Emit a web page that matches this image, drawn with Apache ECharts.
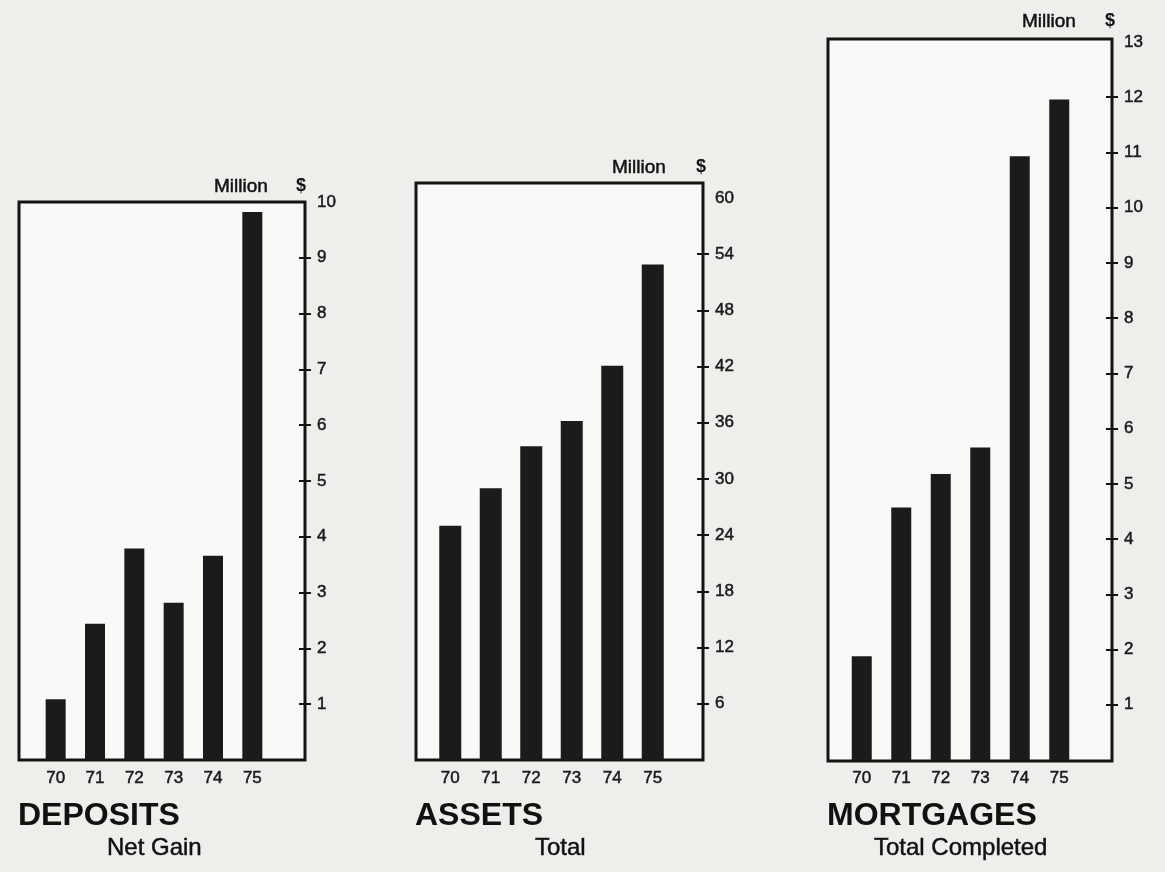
<!DOCTYPE html>
<html>
<head>
<meta charset="utf-8">
<script src="https://cdn.jsdelivr.net/npm/echarts@6/dist/echarts.min.js"></script>
<style>
  html, body { margin: 0; padding: 0; background: #eeeeeb; }
  #chart { width: 1165px; height: 872px; }
</style>
</head>
<body>
<div id="chart"></div>
<script>
// values (million $)
const years = ['70', '71', '72', '73', '74', '75'];
const deposits = [1.09, 2.44, 3.79, 2.82, 3.66, 9.82];
const assets = [25.0, 29.0, 33.5, 36.2, 42.1, 52.9];
const mortgages = [1.88, 4.57, 5.18, 5.66, 10.93, 11.96];

const depositTicks = [1, 2, 3, 4, 5, 6, 7, 8, 9];
const depositLabels = [1, 2, 3, 4, 5, 6, 7, 8, 9, 10];
const assetTicks = [6, 12, 18, 24, 30, 36, 42, 48, 54];
const assetLabels = [6, 12, 18, 24, 30, 36, 42, 48, 54, 60];
const mortgageTicks = [1, 2, 3, 4, 5, 6, 7, 8, 9, 10, 11, 12];
const mortgageLabels = [1, 2, 3, 4, 5, 6, 7, 8, 9, 10, 11, 12, 13];

const FONT = '"Liberation Sans", Arial, Helvetica, sans-serif';
const INK = '#141414';
// thin stroke so the small print looks as heavy as the scan
const heavy = { textBorderColor: '#1a1a1a', textBorderWidth: 0.5 };

// layout of each panel: frame box, inner band for the bars, value range
const panels = [
  { title: 'DEPOSITS', sub: 'Net Gain', subLeft: 107, data: deposits, ticks: depositTicks, labels: depositLabels, max: 10,
    frame: { left: 19, top: 202, width: 286, height: 558 }, bars: { left: 36, width: 236, top: 202, height: 558 }, barWidth: 20,
    unitTop: 177, unitLeft: 214, dollarLeft: 296 },
  { title: 'ASSETS', sub: 'Total', subLeft: 535, data: assets, ticks: assetTicks, labels: assetLabels, max: 60,
    frame: { left: 416, top: 183, width: 287, height: 577 }, bars: { left: 430, width: 243, top: 198, height: 562 }, barWidth: 22,
    unitTop: 158, unitLeft: 612, dollarLeft: 696 },
  { title: 'MORTGAGES', sub: 'Total Completed', subLeft: 874, data: mortgages, ticks: mortgageTicks, labels: mortgageLabels, max: 13,
    frame: { left: 828, top: 39, width: 284, height: 722 }, bars: { left: 842, width: 237, top: 42, height: 718 }, barWidth: 20,
    unitTop: 12, unitLeft: 1022, dollarLeft: 1105 }
];

const grid = [], xAxis = [], yAxis = [], series = [], title = [];

panels.forEach((p, i) => {
  const frameRight = p.frame.left + p.frame.width;
  const barRight = p.bars.left + p.bars.width;

  grid.push({ show: true, left: p.frame.left, top: p.frame.top, width: p.frame.width, height: p.frame.height,
    backgroundColor: '#f9f9f7', borderColor: INK, borderWidth: 3 });
  grid.push({ left: p.bars.left, top: p.bars.top, width: p.bars.width, height: p.bars.height });

  xAxis.push({ gridIndex: 2 * i, type: 'value', show: false });
  xAxis.push({
    gridIndex: 2 * i + 1, type: 'category', data: years,
    axisLine: { show: false }, axisTick: { show: false },
    axisLabel: Object.assign({ color: '#1a1a1a', fontSize: 17, fontFamily: FONT, margin: 10 }, heavy)
  });

  yAxis.push({ gridIndex: 2 * i, type: 'value', show: false });
  // outer ticks + labels on the frame's right edge
  yAxis.push({
    gridIndex: 2 * i + 1, type: 'value', position: 'right', offset: frameRight - barRight,
    min: 0, max: p.max,
    axisLine: { show: false }, splitLine: { show: false },
    axisTick: { show: true, length: 6, customValues: p.ticks, lineStyle: { color: INK, width: 2 } },
    axisLabel: Object.assign({ customValues: p.labels, color: '#1a1a1a', fontSize: 17, fontFamily: FONT, margin: 12 }, heavy)
  });
  // inner ticks
  yAxis.push({
    gridIndex: 2 * i + 1, type: 'value', position: 'right', offset: frameRight - barRight,
    min: 0, max: p.max,
    axisLine: { show: false }, splitLine: { show: false }, axisLabel: { show: false },
    axisTick: { show: true, inside: true, length: 6, customValues: p.ticks, lineStyle: { color: INK, width: 2 } }
  });

  series.push({
    type: 'bar', name: p.title, data: p.data, xAxisIndex: 2 * i + 1, yAxisIndex: 3 * i + 1,
    barWidth: p.barWidth, itemStyle: { color: '#1b1b1b' }, silent: true
  });

  title.push({ text: p.title, left: p.frame.left - 1, top: 800, padding: 0,
    textStyle: { fontFamily: FONT, fontWeight: 'bold', fontSize: 32, color: '#111' } });
  title.push({ text: p.sub, left: p.subLeft, top: 836, padding: 0,
    textStyle: Object.assign({ fontFamily: FONT, fontWeight: 'normal', fontSize: 24, color: '#111' }, heavy) });
  title.push({ text: 'Million', left: p.unitLeft, top: p.unitTop, padding: 0,
    textStyle: Object.assign({ fontFamily: FONT, fontWeight: 'normal', fontSize: 19, color: '#111' }, heavy) });
  title.push({ text: '$', left: p.dollarLeft, top: p.unitTop, padding: 0,
    textStyle: { fontFamily: FONT, fontWeight: 'bold', fontSize: 18, color: '#111' } });
});

const chart = echarts.init(document.getElementById('chart'));
chart.setOption({
  backgroundColor: '#eeeeeb',
  animation: false,
  title,
  grid,
  xAxis,
  yAxis,
  series
});
</script>
</body>
</html>
